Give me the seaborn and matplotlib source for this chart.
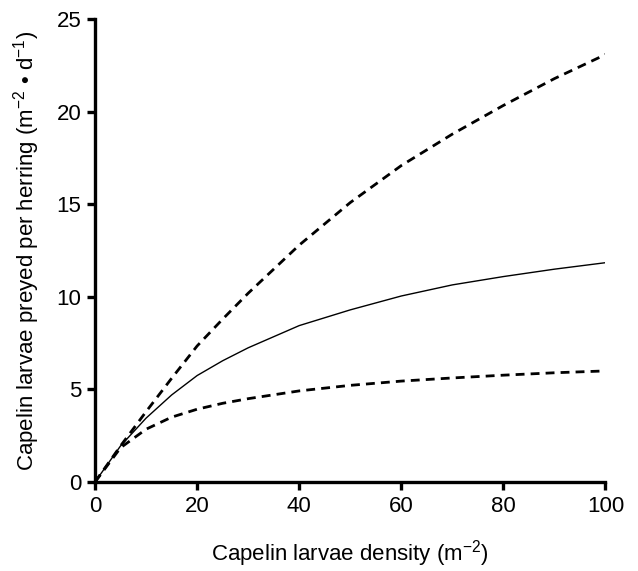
import numpy as np
import pandas as pd
import matplotlib
matplotlib.use("Agg")
import matplotlib.pyplot as plt
import seaborn as sns

# values
density = [0, 5, 10, 15, 20, 25, 30, 40, 50, 60, 70, 80, 90, 100]
upper = [0, 1.95, 3.8, 5.6, 7.35, 8.8, 10.2, 12.8, 15.1, 17.1, 18.8, 20.35, 21.8, 23.1]
middle = [0, 1.95, 3.45, 4.7, 5.75, 6.55, 7.25, 8.45, 9.3, 10.05, 10.65, 11.1, 11.5, 11.85]
lower = [0, 1.85, 2.85, 3.5, 3.93, 4.25, 4.5, 4.92, 5.22, 5.45, 5.62, 5.77, 5.9, 6.0]

sns.set_style("ticks")
plt.rcParams["font.family"] = ["Liberation Sans", "DejaVu Sans"]
plt.rcParams["mathtext.fontset"] = "custom"
plt.rcParams["mathtext.rm"] = "Liberation Sans"
plt.rcParams["mathtext.it"] = "Liberation Sans"

fig = plt.figure(figsize=(6.38, 5.71), dpi=100)
ax = fig.add_axes([0.149, 0.156, 0.800, 0.810])

df = pd.DataFrame({"x": density, "upper": upper, "middle": middle, "lower": lower})
sns.lineplot(data=df, x="x", y="upper", ax=ax, color="black", lw=2.0,
             linestyle=(0, (3.2, 2.2)))
sns.lineplot(data=df, x="x", y="middle", ax=ax, color="black", lw=1.0)
sns.lineplot(data=df, x="x", y="lower", ax=ax, color="black", lw=2.0,
             linestyle=(0, (3.2, 2.2)))

ax.set_xlim(0, 100)
ax.set_ylim(0, 25)
ax.set_xticks([0, 20, 40, 60, 80, 100])
ax.set_yticks([0, 5, 10, 15, 20, 25])
sns.despine(ax=ax)
for s in ["left", "bottom"]:
    ax.spines[s].set_linewidth(2.4)
    ax.spines[s].set_color("black")
ax.tick_params(width=2.4, length=6, labelsize=16, color="black", labelcolor="black", pad=4)

ax.set_xlabel(r"Capelin larvae density (m$^{-2}$)", fontsize=16, labelpad=15, color="black")
ax.set_ylabel(r"Capelin larvae preyed per herring (m$^{-2}$ • d$^{-1}$)", fontsize=16,
              labelpad=10, color="black")

fig.savefig("out.png", dpi=100)
